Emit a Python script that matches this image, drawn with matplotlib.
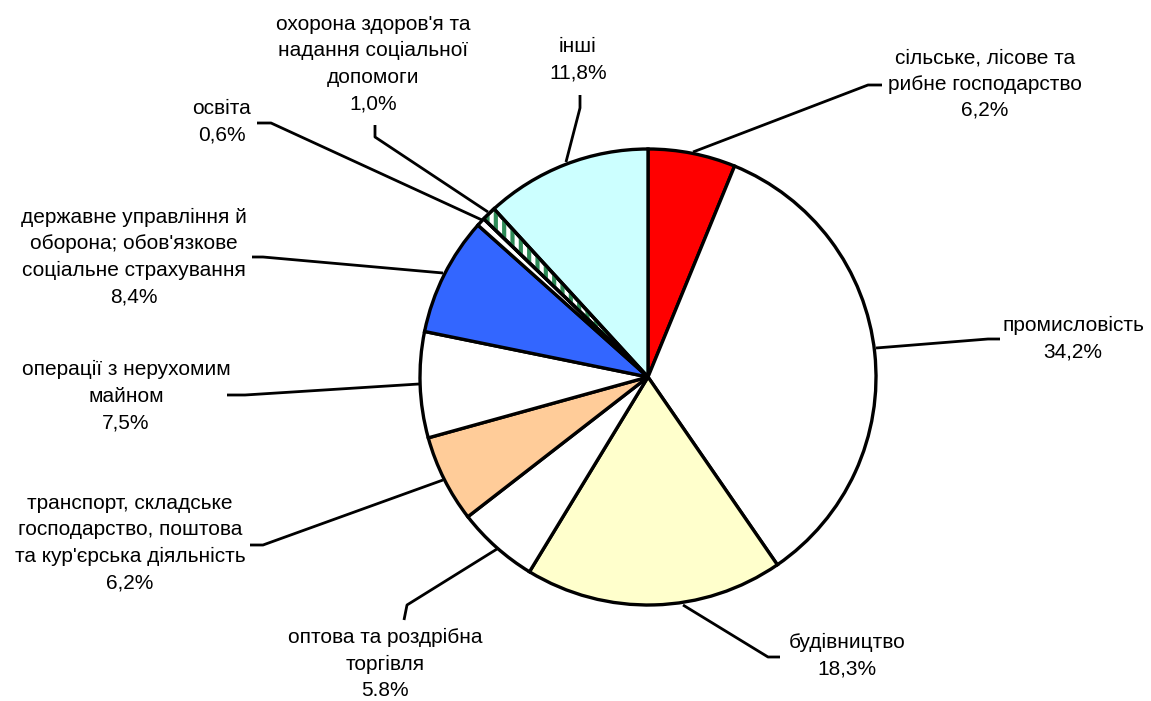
import numpy as np
import matplotlib
matplotlib.use('Agg')
import matplotlib.pyplot as plt
from matplotlib.patches import Wedge

plt.rcParams['font.family'] = ['Liberation Sans', 'DejaVu Sans']
plt.rcParams['hatch.linewidth'] = 3.0

# data: shares of sectors, clockwise from 12 o'clock
labels = ["сільське, лісове та\nрибне господарство", "промисловість", "будівництво",
          "оптова та роздрібна\nторгівля", "транспорт, складське\nгосподарство, поштова\nта кур'єрська діяльність",
          "операції з нерухомим\nмайном", "державне управління й\nоборона; обов'язкове\nсоціальне страхування",
          "освіта", "охорона здоров'я та\nнадання соціальної\nдопомоги", "інші"]
values = [6.2, 34.2, 18.3, 5.8, 6.2, 7.5, 8.4, 0.6, 1.0, 11.8]
pct_text = ["6,2%", "34,2%", "18,3%", "5.8%", "6,2%", "7,5%", "8,4%", "0,6%", "1,0%", "11,8%"]
colors = ['#FF0000', '#FFFFFF', '#FFFFCC', '#FFFFFF', '#FFCC99', '#FFFFFF', '#3366FF',
          '#FFFFFF', '#FFFFFF', '#CCFFFF']

# layout (pixel space): label centre and leader polyline
label_pos = [(985, 84), (1073, 339), (847, 656), (385, 664), (130, 543),
             (126, 396), (134, 257), (222, 122), (373, 64), (578, 60)]
leaders = [
    [(693, 152), (868, 85), (882, 85)],
    [(876, 348), (988, 339), (1000, 339)],
    [(683, 605), (768, 657), (780, 657)],
    [(497, 549), (407, 605), (404, 620)],
    [(443, 480), (263, 545), (250, 545)],
    [(419, 384), (245, 395), (227, 395)],
    [(443, 273), (263, 257), (252, 257)],
    [(482, 220), (271, 123), (257, 123)],
    [(488, 212), (375, 137), (375, 125)],
    [(566, 162), (580, 108), (580, 95)],
]

fig = plt.figure(figsize=(11.51, 7.01), dpi=100)
ax = fig.add_axes([0, 0, 1, 1])

center = (648, 377)
radius = 228
wedges, _ = ax.pie(values, colors=colors, startangle=270, counterclock=True,
                   center=center, radius=radius, frame=True,
                   wedgeprops=dict(edgecolor='black', linewidth=2.4))
ax.set_xlim(0, 1151)
ax.set_ylim(701, 0)
ax.set_aspect('equal')
ax.axis('off')

# hatched slice (охорона здоров'я)
w = wedges[8]
ax.add_patch(Wedge(center, radius, w.theta1, w.theta2, facecolor='none',
                   edgecolor='#2E8B57', hatch='||', linewidth=0))
ax.add_patch(Wedge(center, radius, w.theta1, w.theta2, facecolor='none',
                   edgecolor='black', linewidth=2.4))

for lab, pct, pos, line in zip(labels, pct_text, label_pos, leaders):
    xs, ys = zip(*line)
    ax.plot(xs, ys, color='black', linewidth=2.0, solid_capstyle='butt')
    ax.text(pos[0], pos[1], lab + "\n" + pct, ha='center', va='center',
            fontsize=15, linespacing=1.5, color='black')

fig.savefig('out.png', dpi=100)
